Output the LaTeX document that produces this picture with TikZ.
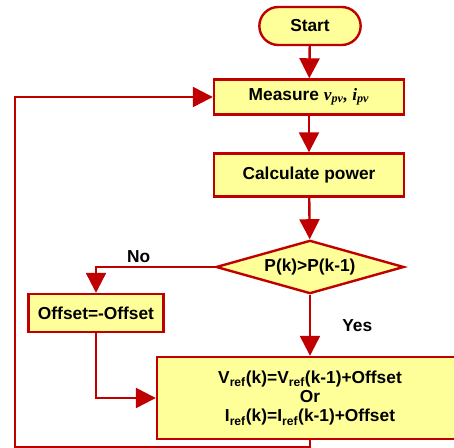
\documentclass[tikz,border=0pt]{standalone}
\usepackage{fontspec}
\setmainfont{Liberation Sans}
\newfontfamily\mathserif{Liberation Serif}
\usetikzlibrary{shapes.geometric,shapes.misc,arrows.meta}
\definecolor{flowred}{RGB}{192,0,0}
\definecolor{flowfill}{RGB}{255,255,153}
\begin{document}
\begin{tikzpicture}[x=0.75pt,y=-0.75pt,
    box/.style={draw=flowred,fill=flowfill,line width=1.8pt,font=\fontsize{13}{15}\selectfont\bfseries,
        inner sep=2pt,align=center},
    flow/.style={draw=flowred,line width=1.8pt,-{Triangle[length=15pt,width=15pt]}},
    lbl/.style={font=\fontsize{13}{15}\selectfont\bfseries}]
        \useasboundingbox (0,0) rectangle (454,448);
        \clip (0,0) rectangle (454,448);

        \node[box,rounded rectangle,minimum width=80pt,minimum height=28.5pt] (start) at (310,26) {Start};
        \node[box,minimum width=142.5pt,minimum height=26.25pt] (measure) at (309,97)
            {Measure {\mathserif\itshape v\textsubscript{pv}, i\textsubscript{pv}}};
        \node[box,minimum width=142.5pt,minimum height=32.25pt] (calc) at (309,175) {Calculate power};
        \node[box,diamond,aspect=3.5,minimum width=141pt,minimum height=40pt,inner sep=0pt] (test) at (310,267) {P(k)>P(k-1)};
        \node[box,minimum width=101pt,minimum height=28.5pt] (offset) at (96,313) {Offset=-Offset};
        \node[box,minimum width=229.5pt,minimum height=61.5pt] (update) at (310,398)
            {V\textsubscript{ref}(k)=V\textsubscript{ref}(k-1)+Offset\\[-0.5pt] Or\\[-0.5pt] I\textsubscript{ref}(k)=I\textsubscript{ref}(k-1)+Offset};
        \coordinate (loop) at (15,447);

        \draw[flow] (start) -- (measure);
        \draw[flow] (measure) -- (calc);
        \draw[flow] (calc) -- (test);
        \draw[flow] (test.west) -| node[lbl,pos=0.32,above=-1pt] {No} (offset.north);
        \draw[flow] (test.south) -- node[lbl,right=20pt] {Yes} (update.north);
        \draw[flow] (offset.south) |- (update.west);
        \draw[flow] (update.south) |- (loop) |- (measure.west);
    \end{tikzpicture}
\end{document}
